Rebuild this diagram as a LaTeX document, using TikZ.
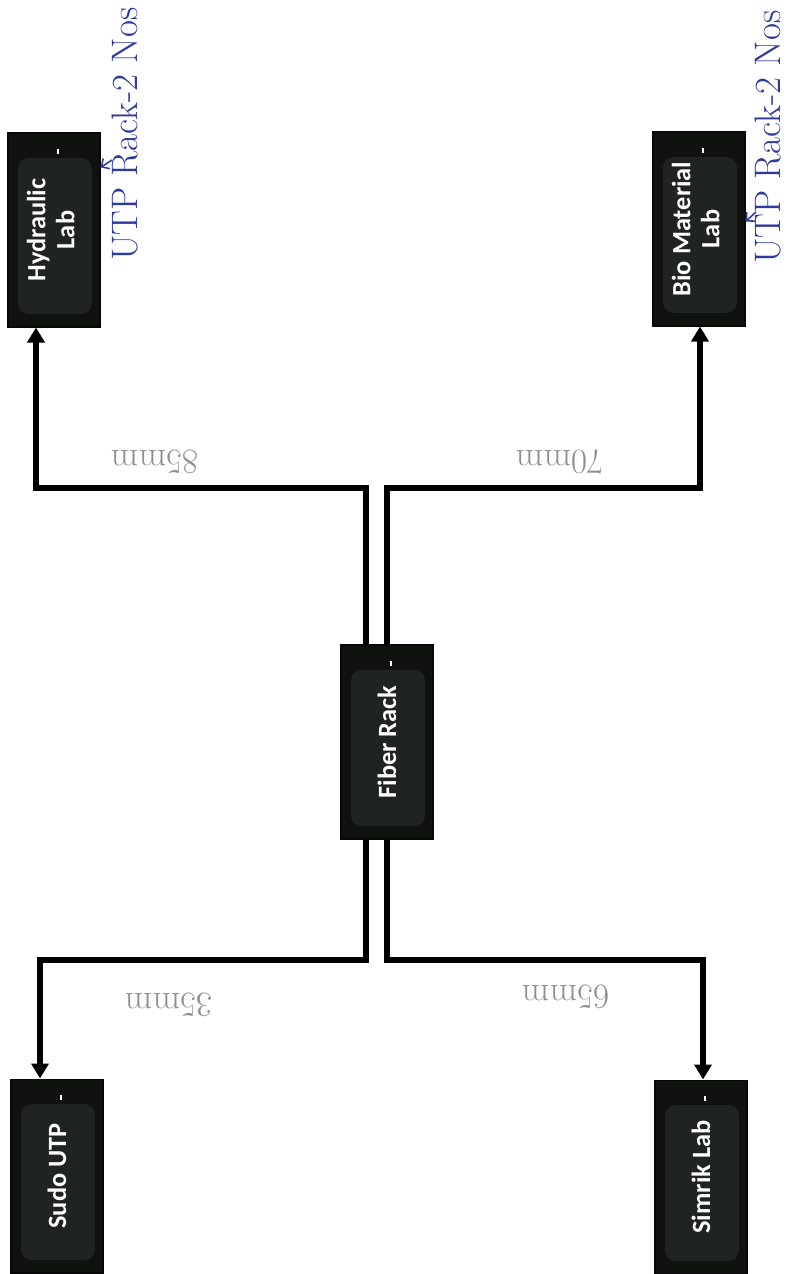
\documentclass[tikz,border=0pt]{standalone}
\usepackage{graphicx}
\usepackage{fontspec}
\setsansfont{Carlito}
\usetikzlibrary{arrows.meta}
\definecolor{rackfill}{HTML}{0F120F}
\definecolor{rackinner}{HTML}{1F2421}
\definecolor{rackedge}{HTML}{080808}
\definecolor{penblue}{HTML}{2C3B9C}
\definecolor{pencilgray}{HTML}{8E8E8E}
\tikzset{
    rackbox/.style={draw=rackedge, fill=rackfill, line width=0.6pt, inner sep=0pt,
        minimum width=1.84cm, minimum height=3.88cm, text=white,
        font=\sffamily\bfseries\fontsize{15}{16.5}\selectfont,
        path picture={
            \fill[rackinner, rounded corners=6pt]
                ([shift={(0.2cm,-0.5cm)}]path picture bounding box.north west) rectangle
                ([shift={(-0.16cm,0.26cm)}]path picture bounding box.south east);
            \draw[white, line width=0.8pt]
                ([shift={(0.08cm,-0.32cm)}]path picture bounding box.north) -- ++(0cm,-0.1cm);
        }},
    link/.style={line width=0.12cm, line join=miter, -{Triangle[length=0.3cm,width=0.34cm]}},
    pencil/.style={text=pencilgray, font=\fontsize{20}{22}\selectfont},
    pen/.style={text=penblue, font=\fontsize{21}{23}\selectfont},
    penarrow/.style={draw=penblue, line width=0.9pt, -{Straight Barb[length=0.12cm]}}
}
\begin{document}
\begin{tikzpicture}[x=0.02cm, y=-0.02cm]
        \useasboundingbox (0,0) rectangle (790,1274);

        \node[rackbox] (hyd) at (54,230) {\rotatebox{90}{\begin{tabular}{@{}c@{}}Hydraulic\\Lab\end{tabular}}};
        \node[rackbox] (bio) at (699,229) {\rotatebox{90}{\begin{tabular}{@{}c@{}}Bio Material\\Lab\end{tabular}}};
        \node[rackbox] (fiber) at (387,742) {\rotatebox{90}{Fiber Rack}};
        \node[rackbox] (sudo) at (57,1176) {\rotatebox{90}{Sudo UTP}};
        \node[rackbox] (simrik) at (701,1177) {\rotatebox{90}{Simrik Lab}};

        \coordinate (hydbend) at (36,488);
        \coordinate (biobend) at (700,488);
        \coordinate (sudobend) at (40,960);
        \coordinate (simbend) at (703,960);

        \draw[link] ([xshift=-0.43cm]fiber.north) |- (hydbend) -- (hydbend |- hyd.south);
        \draw[link] (fiber.north) |- (biobend) -- (biobend |- bio.south);
        \draw[link] ([xshift=-0.43cm]fiber.south) |- (sudobend) -- (sudobend |- sudo.north);
        \draw[link] (fiber.south) |- (simbend) -- (simbend |- simrik.north);

        \node[pencil, rotate=180] (lenhyd) at (155,462) {85mm};
        \node[pencil, rotate=180] (lenbio) at (560,462) {70mm};
        \node[pencil, rotate=180] (lensudo) at (169,1005) {35mm};
        \node[pencil, rotate=180] (lensim) at (566,997) {65mm};

        \node[pen, rotate=90] (utphyd) at (125,134) {UTP Rack-2 Nos};
        \node[pen, rotate=90] (utpbio) at (768,137) {UTP Rack-2 Nos};

        \coordinate (hydtag) at (112,160);
        \coordinate (biotag) at (756,212);
        \draw[penarrow] (hydtag) -- ([yshift=-0.7cm]hyd.north east);
        \draw[penarrow] (biotag) -- ([yshift=-1.8cm]bio.north east);
\end{tikzpicture}
\end{document}
